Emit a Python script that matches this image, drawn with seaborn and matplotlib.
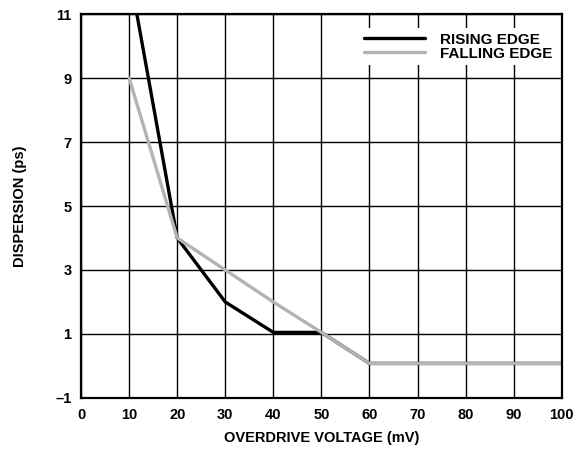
import matplotlib
matplotlib.use("Agg")
import matplotlib.pyplot as plt
import seaborn as sns
import pandas as pd

rising_x = [11.6, 20, 30, 40, 50, 60, 100]
rising_y = [11, 4, 2, 1.05, 1.05, 0.08, 0.08]
falling_x = [10, 20, 30, 40, 50, 60, 100]
falling_y = [9, 4, 3, 2, 1.05, 0.08, 0.08]
x_ticks = [0, 10, 20, 30, 40, 50, 60, 70, 80, 90, 100]
y_ticks = [-1, 1, 3, 5, 7, 9, 11]
y_labels = ["\u20131", "1", "3", "5", "7", "9", "11"]

sns.set_theme(style="white")
plt.rcParams['font.family'] = ['Liberation Sans', 'DejaVu Sans']
plt.rcParams['font.weight'] = 'bold'
plt.rcParams['axes.labelweight'] = 'bold'
plt.rcParams['text.color'] = 'black'
plt.rcParams['axes.labelcolor'] = 'black'
plt.rcParams['xtick.color'] = 'black'
plt.rcParams['ytick.color'] = 'black'

df = pd.concat([
    pd.DataFrame({"x": rising_x, "y": rising_y, "s": "RISING EDGE"}),
    pd.DataFrame({"x": falling_x, "y": falling_y, "s": "FALLING EDGE"}),
])

fig = plt.figure(figsize=(5.75, 4.49), dpi=100)
ax = fig.add_axes([0.141, 0.1136, 0.836, 0.8552])
sns.lineplot(data=df, x="x", y="y", hue="s", sort=False,
             palette={"RISING EDGE": "black", "FALLING EDGE": "#b3b3b3"},
             linewidth=2.4, ax=ax, legend=True)

ax.set_xlim(0, 100)
ax.set_ylim(-1, 11)
ax.set_xticks(x_ticks)
ax.set_yticks(y_ticks)
ax.set_yticklabels(y_labels, fontweight="bold")
ax.set_xticklabels([str(v) for v in x_ticks], fontweight="bold")
ax.grid(True, color="black", linewidth=1.0)
ax.set_axisbelow(True)
for sp in ax.spines.values():
    sp.set_color("black")
    sp.set_linewidth(1.6)
ax.tick_params(axis="both", length=0, pad=7, labelsize=10.5, labelcolor="black")
ax.set_xlabel("OVERDRIVE VOLTAGE (mV)", fontsize=10.5, fontweight="bold",
              labelpad=7, color="black")
ax.set_ylabel("DISPERSION (ps)", fontsize=10.5, fontweight="bold",
              labelpad=20, color="black")

leg = ax.legend(loc="upper right", bbox_to_anchor=(1.0, 0.975), frameon=True,
                fancybox=False, framealpha=1, edgecolor="white",
                prop={"size": 11, "weight": "bold"}, handlelength=4.0,
                labelspacing=0.0, borderpad=0.3, handletextpad=1.0,
                borderaxespad=0.3)
for t in leg.get_texts():
    t.set_color("black")
leg.get_frame().set_linewidth(0)

fig.savefig("out.png", dpi=100)
